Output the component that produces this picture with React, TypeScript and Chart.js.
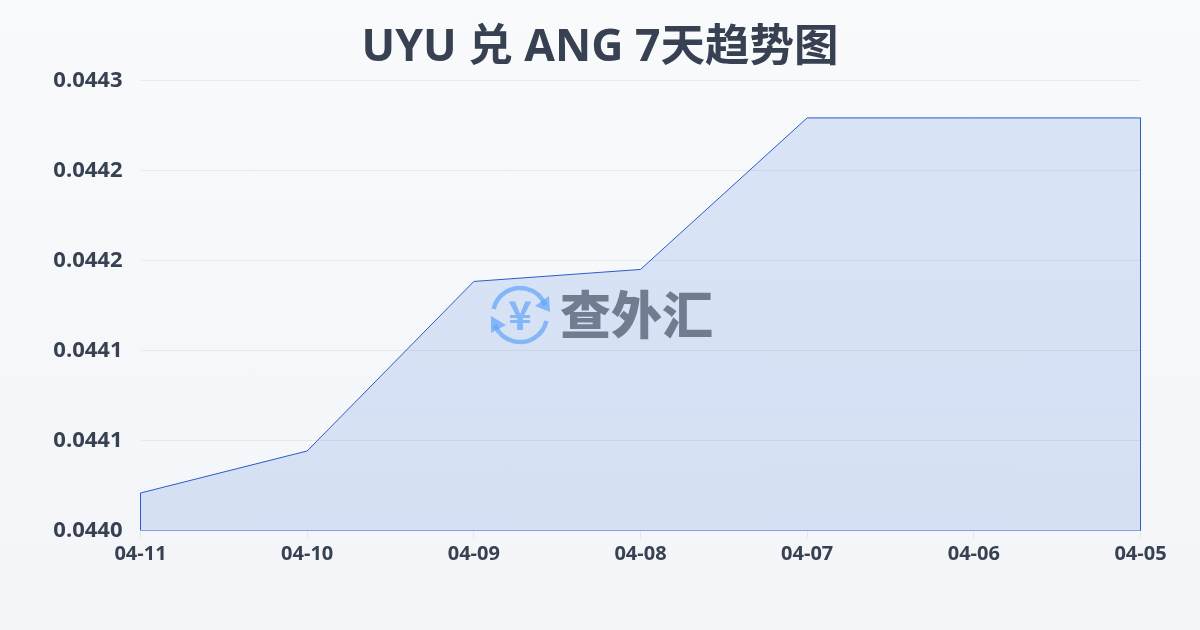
import React, { useEffect, useRef } from "react";
import { Chart, registerables } from "chart.js";

Chart.register(...registerables);

const TITLE = "UYU 兑 ANG 7天趋势图";
const WATERMARK = "查外汇";
const categories = ["04-11", "04-10", "04-09", "04-08", "04-07", "04-06", "04-05"];
const rates = [0.044025, 0.044053, 0.044166, 0.044174, 0.044275, 0.044275, 0.044275];
const yMin = 0.044;
const yMax = 0.0443;
const yStep = 0.00006;

const FONT = '"Open Sans", "Noto Sans CJK SC", sans-serif';

const watermarkPlugin = {
  id: "watermark",
  afterDatasetsDraw(chart: any) {
    const { ctx } = chart;
    ctx.save();
    const cx = 520;
    const cy = 315;
    ctx.strokeStyle = "rgba(96,165,250,0.7)";
    ctx.fillStyle = "rgba(96,165,250,0.7)";
    ctx.lineWidth = 4.5;
    ctx.beginPath();
    ctx.arc(cx, cy, 27, -Math.PI * 0.93, -Math.PI * 0.12);
    ctx.stroke();
    ctx.beginPath();
    ctx.arc(cx, cy, 27, Math.PI * 0.07, Math.PI * 0.88);
    ctx.stroke();
    ctx.beginPath();
    ctx.moveTo(549, 296);
    ctx.lineTo(550, 312);
    ctx.lineTo(535, 306);
    ctx.closePath();
    ctx.fill();
    ctx.beginPath();
    ctx.moveTo(491, 316);
    ctx.lineTo(491, 333);
    ctx.lineTo(506, 325);
    ctx.closePath();
    ctx.fill();
    ctx.font = `bold 40px "Noto Sans CJK SC", sans-serif`;
    ctx.textAlign = "center";
    ctx.textBaseline = "middle";
    ctx.fillText("¥", cx, cy);
    ctx.fillStyle = "rgba(75,85,105,0.72)";
    ctx.font = `900 51px "Noto Sans CJK SC", sans-serif`;
    ctx.textAlign = "left";
    ctx.fillText(WATERMARK, 560, 315);
    ctx.restore();
  },
};

export default function App() {
  const ref = useRef<HTMLCanvasElement>(null);
  useEffect(() => {
    document.body.style.margin = "0";
    const outline = [
      { x: categories[0], y: yMin },
      ...categories.map((c, i) => ({ x: c, y: rates[i] })),
      { x: categories[categories.length - 1], y: yMin },
      { x: categories[0], y: yMin },
    ];
    const chart = new Chart(ref.current!, {
      type: "line",
      data: {
        labels: categories,
        datasets: [
          {
            data: rates,
            borderWidth: 0,
            borderColor: "rgba(0,0,0,0)",
            backgroundColor: (c: any) => {
              const area = c.chart.chartArea;
              if (!area) return "rgba(37,99,235,0.15)";
              const g = c.chart.ctx.createLinearGradient(0, area.top, 0, area.bottom);
              g.addColorStop(0, "rgba(37,105,225,0.15)");
              g.addColorStop(1, "rgba(37,90,215,0.14)");
              return g;
            },
            fill: "origin",
            pointRadius: 0,
            tension: 0,
          },
          {
            data: outline as any,
            borderWidth: 1,
            borderColor: "#2a5bc8",
            fill: false,
            pointRadius: 0,
            tension: 0,
          },
        ],
      },
      options: {
        animation: false,
        responsive: false,
        layout: { padding: 0 },
        plugins: {
          legend: { display: false },
          tooltip: { enabled: false },
          title: {
            display: true,
            text: TITLE,
            color: "#374151",
            font: { family: FONT, size: 44.5, weight: "bold" },
            padding: { top: 22, bottom: 5 },
          },
        },
        scales: {
          x: {
            grid: { drawOnChartArea: false, drawTicks: true, tickLength: 8, color: "rgba(0,0,0,0.06)" },
            border: { display: false },
            ticks: {
              color: "#374151",
              font: { family: FONT, size: 20, weight: "bold" },
              padding: 4,
              maxRotation: 0,
              autoSkip: false,
            },
            afterFit(scale: any) {
              scale.height = 99.5;
            },
          },
          y: {
            min: yMin,
            max: yMax,
            grid: { drawTicks: false, color: "rgba(0,0,0,0.06)" },
            border: { display: false },
            afterBuildTicks(scale: any) {
              const t = [];
              for (let i = 0; i <= 5; i++) t.push({ value: yMin + i * yStep });
              scale.ticks = t;
            },
            ticks: {
              color: "#374151",
              font: { family: FONT, size: 22, weight: "bold" },
              padding: 18,
              callback: (v: any) => Number(v).toFixed(4),
            },
            afterFit(scale: any) {
              scale.width = 140.5;
            },
          },
          yRight: {
            position: "right",
            display: true,
            grid: { display: false },
            border: { display: false },
            ticks: { display: false },
            afterFit(scale: any) {
              scale.width = 59.5;
            },
          },
        },
      },
      plugins: [watermarkPlugin],
    } as any);
    return () => chart.destroy();
  }, []);
  return (
    <div
      style={{
        width: 1200,
        height: 630,
        background: "linear-gradient(180deg, #f9fafc 0%, #f3f5f8 100%)",
      }}
    >
      <canvas ref={ref} width={1200} height={630} style={{ display: "block" }} />
    </div>
  );
}
